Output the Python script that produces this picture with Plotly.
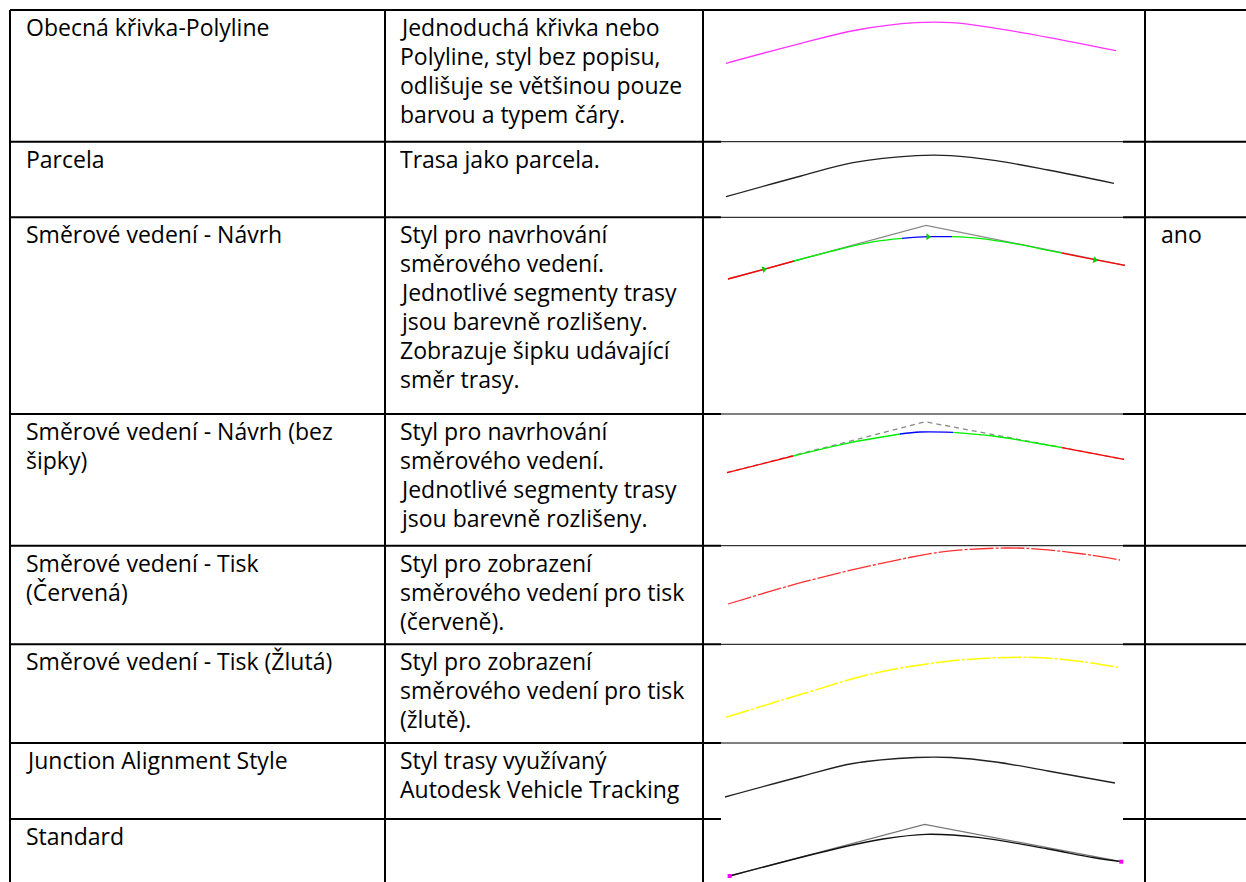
import plotly.graph_objects as go

# --- table content -----------------------------------------------------------
style_names = [
    ["Obecná křivka-Polyline"],
    ["Parcela"],
    ["Směrové vedení - Návrh"],
    ["Směrové vedení - Návrh (bez", "šipky)"],
    ["Směrové vedení - Tisk", "(Červená)"],
    ["Směrové vedení - Tisk (Žlutá)"],
    ["Junction Alignment Style"],
    ["Standard"],
]
style_descriptions = [
    ["Jednoduchá křivka nebo", "Polyline, styl bez popisu,", "odlišuje se většinou pouze", "barvou a typem čáry."],
    ["Trasa jako parcela."],
    ["Styl pro navrhování", "směrového vedení.", "Jednotlivé segmenty trasy",
     "jsou barevně rozlišeny.", "Zobrazuje šipku udávající", "směr trasy."],
    ["Styl pro navrhování", "směrového vedení.", "Jednotlivé segmenty trasy", "jsou barevně rozlišeny."],
    ["Styl pro zobrazení", "směrového vedení pro tisk", "(červeně)."],
    ["Styl pro zobrazení", "směrového vedení pro tisk", "(žlutě)."],
    ["Styl trasy využívaný", "Autodesk Vehicle Tracking"],
    [],
]
style_flags = ["", "", "ano", "", "", "", "", ""]

# --- preview drawings (x along the drawing, y downwards from cell top) -------
polyline_x = [23, 98, 154, 213, 249, 293, 345, 413]
polyline_y = [53.3, 33.3, 20, 12.7, 12.7, 18.3, 27.3, 40.7]

parcela_x = [23, 98, 150, 213, 248, 293, 345, 411]
parcela_y = [55, 34.3, 21, 14, 14, 19, 28.3, 41.6]

navrh_tangent_x = [25, 223, 422]
navrh_tangent_y = [61.7, 8, 48]
navrh_seg_x = [[25, 61, 91], [91, 136, 171, 199], [199, 225, 249], [249, 276, 310, 345, 359], [359, 380, 422]]
navrh_seg_y = [[61.7, 52, 43.7], [43.7, 32, 24.4, 21], [21, 19.4, 19.4], [19.4, 21, 26, 33, 35.8], [35.8, 40, 48]]
navrh_arrow_x = [61, 225, 392]
navrh_arrow_y = [52, 19.4, 42.7]

bez_tangent_x = [24, 222, 421]
bez_tangent_y = [58.7, 7.7, 45.3]
bez_seg_x = [[24, 90], [90, 144, 197], [197, 217, 250], [250, 290, 330, 359], [359, 421]]
bez_seg_y = [[58.7, 42], [42, 29.3, 20], [20, 18, 18.3], [18.3, 22, 28.5, 33.6], [33.6, 45.3]]

tisk_red_x = [25, 101.5, 171, 241, 303, 338, 380, 417]
tisk_red_y = [58.3, 36, 19.3, 6, 2.3, 3.6, 8.3, 14.3]

tisk_yellow_x = [23, 101.5, 171, 241, 293, 338, 380, 415]
tisk_yellow_y = [73, 49, 29, 17.4, 13.4, 13.4, 17.4, 23]

junction_x = [22, 98, 150, 213, 248, 293, 345, 412]
junction_y = [54, 33.5, 20.5, 14.5, 14.5, 19, 28, 40]

standard_tangent_x = [26.6, 221.6, 418.3]
standard_tangent_y = [57, 5.3, 42.7]
standard_curve_x = [26.6, 136, 180, 223, 275, 345, 390, 418.3]
standard_curve_y = [57, 29, 20, 15.3, 18.3, 30, 38.5, 42.7]

# --- layout geometry (pixels) ------------------------------------------------
W, H = 1246, 882
col_edges = [10, 385, 703, 1145, 1246]
row_tops = [10, 141.7, 217.3, 414, 545.7, 644.3, 743, 819]
last_row_bottom = 900
thin_from, thin_to = 721, 1123
font = dict(family="'Open Sans', 'Noto Sans', sans-serif", size=23, color="#000000")
line_pitch = 29
first_line = 17
pad_left = [14, 13, 0, 14]

fig = go.Figure()
shapes = []
annotations = []

row_bottoms = row_tops[1:] + [last_row_bottom]


def add_text(lines, col, top):
    for i, txt in enumerate(lines):
        annotations.append(dict(
            x=col_edges[col] + pad_left[col], y=top + first_line + i * line_pitch,
            xref="x", yref="y", text=txt, showarrow=False,
            xanchor="left", yanchor="middle", font=font,
        ))


def add_curve(k, xs, ys, color, width=1.3, dash="solid", shape="spline"):
    fig.add_trace(go.Scatter(
        x=xs, y=ys, mode="lines", xaxis=f"x{k}", yaxis=f"y{k}",
        line=dict(color=color, width=width, dash=dash, shape=shape, smoothing=1.0),
        hoverinfo="skip", showlegend=False,
    ))


# one small axis pair per preview cell
axes = {}
for r, (top, bottom) in enumerate(zip(row_tops, row_bottoms)):
    k = r + 2
    vis_bottom = min(bottom, H)
    axes[f"xaxis{k}"] = dict(domain=[col_edges[2] / W, col_edges[3] / W],
                             range=[0, col_edges[3] - col_edges[2]], visible=False, fixedrange=True)
    axes[f"yaxis{k}"] = dict(domain=[1 - vis_bottom / H, 1 - top / H],
                             range=[vis_bottom - top, 0], visible=False, fixedrange=True)
    add_text(style_names[r], 0, top)
    add_text(style_descriptions[r], 1, top)
    if style_flags[r]:
        add_text([style_flags[r]], 3, top)

seg_colors = ["#ff0000", "#00ee00", "#0000ff", "#00ee00", "#ff0000"]

add_curve(2, polyline_x, polyline_y, "#ff33ff")
add_curve(3, parcela_x, parcela_y, "#222222")

add_curve(4, navrh_tangent_x, navrh_tangent_y, "#8a8a8a", shape="linear")
for xs, ys, c in zip(navrh_seg_x, navrh_seg_y, seg_colors):
    add_curve(4, xs, ys, c)
fig.add_trace(go.Scatter(
    x=navrh_arrow_x, y=navrh_arrow_y, mode="markers", xaxis="x4", yaxis="y4",
    marker=dict(symbol="triangle-right", size=6, color="#00cc00", angle=[-16, 0, 16]),
    hoverinfo="skip", showlegend=False,
))

add_curve(5, bez_tangent_x, bez_tangent_y, "#8a8a8a", dash="5px,4px", shape="linear")
for xs, ys, c in zip(bez_seg_x, bez_seg_y, seg_colors):
    add_curve(5, xs, ys, c)

add_curve(6, tisk_red_x, tisk_red_y, "#ff3030", dash="24px,2px,3px,2px")
add_curve(7, tisk_yellow_x, tisk_yellow_y, "#ffff00", width=1.5, dash="24px,2px,3px,2px")
add_curve(8, junction_x, junction_y, "#222222")

add_curve(9, standard_tangent_x, standard_tangent_y, "#777777", shape="linear")
add_curve(9, standard_curve_x, standard_curve_y, "#111111")
fig.add_trace(go.Scatter(
    x=[standard_curve_x[0], standard_curve_x[-1]], y=[standard_curve_y[0], standard_curve_y[-1]],
    mode="markers", xaxis="x9", yaxis="y9",
    marker=dict(symbol="square", size=4, color="#ff00ff"),
    hoverinfo="skip", showlegend=False,
))

# --- table borders ------------------------------------------------------------
thick = dict(color="#000000", width=2)
thin = dict(color="#000000", width=1)


def hline(x0, x1, y, line):
    shapes.append(dict(type="line", xref="x", yref="y", x0=x0, x1=x1, y0=y, y1=y, line=line))


hline(col_edges[0], W, row_tops[0], thick)
for r, y in enumerate(row_tops[1:], start=1):
    hline(col_edges[0], thin_from, y, thick)
    if r != len(row_tops) - 1:
        hline(thin_from, thin_to, y, thin)
    hline(thin_to, W, y, thick)
for x in col_edges[:4]:
    shapes.append(dict(type="line", xref="x", yref="y", x0=x, x1=x, y0=row_tops[0], y1=H + 5, line=thick))

fig.update_layout(
    width=W, height=H,
    margin=dict(l=0, r=0, t=0, b=0),
    paper_bgcolor="white", plot_bgcolor="rgba(0,0,0,0)",
    xaxis=dict(domain=[0, 1], range=[0, W], visible=False, fixedrange=True),
    yaxis=dict(domain=[0, 1], range=[H, 0], visible=False, fixedrange=True),
    shapes=shapes, annotations=annotations,
    showlegend=False,
    **axes,
)

fig.write_html(
    "out.html",
    config={"displayModeBar": False},
    post_script="document.body.style.margin='0';document.body.style.overflow='hidden';",
)
